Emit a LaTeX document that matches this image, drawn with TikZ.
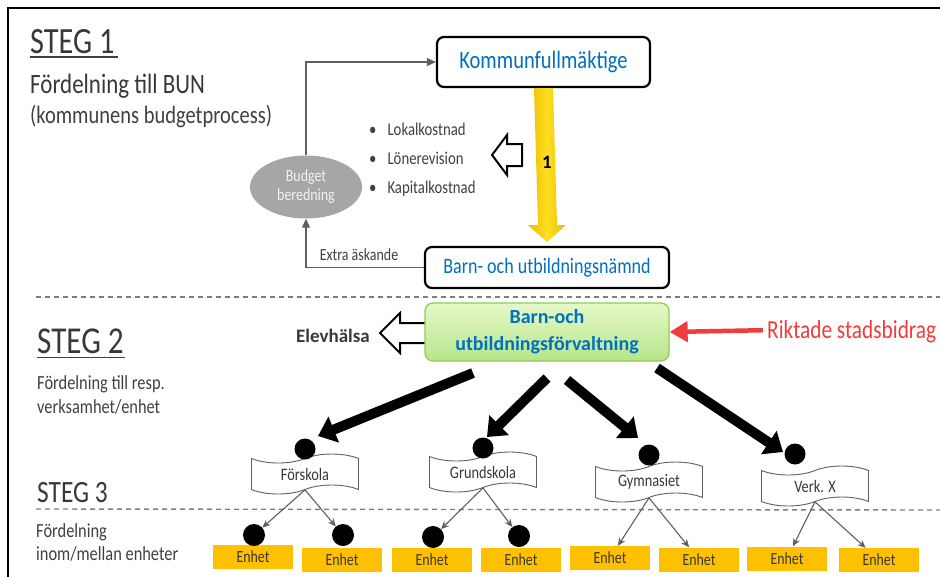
\documentclass[tikz,border=0pt]{standalone}
\usepackage{fontspec}
\setmainfont{Carlito}[FakeStretch=0.82]
\newfontfamily\widefont{Carlito}
\usetikzlibrary{shapes.geometric,shapes.symbols,arrows.meta,calc}
\definecolor{kblue}{HTML}{0070C0}
\definecolor{txtdark}{HTML}{383838}
\definecolor{txtgray}{HTML}{404040}
\definecolor{linegray}{HTML}{5F5F5F}
\definecolor{dashgray}{HTML}{7F7F7F}
\definecolor{ellgray}{HTML}{A6A6A6}
\definecolor{gold}{HTML}{FFC000}
\definecolor{gtop}{HTML}{E6F9C8}
\definecolor{gbot}{HTML}{B6E58A}
\definecolor{gborder}{HTML}{94CB55}
\definecolor{rred}{HTML}{F03C3C}
\definecolor{yedge}{HTML}{E9B800}
\definecolor{ymid}{HTML}{FFE020}
\newcommand\myfs[1]{\fontsize{#1}{#1}\selectfont}
\tikzset{
  heading/.style={anchor=base west, inner sep=0pt, text=txtdark},
  subtext/.style={anchor=base west, inner sep=0pt, text=txtgray},
  mainbox/.style={draw=black, line width=2.2pt, rounded corners=7pt, fill=white, text=kblue, inner sep=0pt},
  greybar/.style={draw=linegray, line width=1.3pt},
  dashsep/.style={draw=dashgray, line width=1.4pt, dash pattern=on 5pt off 4pt},
  banner/.style={tape, draw=linegray, line width=0.9pt, fill=white, minimum width=107pt, minimum height=40pt, tape bend height=9pt, inner sep=0pt, font=\myfs{17.5}, text=txtdark},
  bigdot/.style={circle, fill=black, minimum size=21pt, inner sep=0pt},
  enhetbox/.style={fill=gold, minimum width=80pt, minimum height=24pt, inner sep=0pt, font=\myfs{17}, text=txtdark},
  thickarrow/.style={line width=10pt, -{Triangle[width=27pt,length=17pt]}},
  thinarrow/.style={draw=linegray, line width=1.1pt, -{Stealth[length=8pt,width=7pt]}},
  hollow/.style={draw=black, line width=2pt, fill=white, line join=miter},
}
\begin{document}
\begin{tikzpicture}[x=1pt,y=-1pt]
\useasboundingbox (0,0) rectangle (940,576);
% frame
\draw[line width=2pt] (8,580) -- (8,8) -- (945,8);

% STEG 1
\node[heading, font=\myfs{37}] (steg1) at (30,53) {STEG 1};
\draw[line width=1.4pt, txtgray] (30,57) -- (118,57);
\node[heading, font=\myfs{28}] (fbun) at (30,93) {Fördelning till BUN};
\node[subtext, font=\myfs{25}] (kbp) at (30,123) {(kommunens budgetprocess)};

% boxes top
\node[mainbox, minimum width=213pt, minimum height=50pt, font=\myfs{25}] (kf) at (543.5,62) {Kommunfullmäktige};
\node[mainbox, minimum width=244pt, minimum height=41pt, font=\myfs{22}] (bun) at (547,267.5) {Barn- och utbildningsnämnd};

% yellow arrow
\shade[left color=yedge, right color=yedge, middle color=ymid]
  ($(kf.south)+(-9.5,0)$) -- ($(kf.south)+(9.5,0)$) -- (557,225) -- (566,225) -- ($(bun.north)+(0,-4)$) -- (528,225) -- (538,225) -- cycle;
\node[font=\widefont\bfseries\myfs{19}, inner sep=0pt] (one) at (547,162) {1};

% hollow arrow (costs)
\draw[hollow] (522,144) -- (507,144) -- (507,135) -- (492,155) -- (507,175) -- (507,166) -- (522,166) -- cycle;
\node[subtext, font=\myfs{18}] (l1) at (369,135) {•\hspace{11pt}Lokalkostnad};
\node[subtext, font=\myfs{18}] (l2) at (369,164) {•\hspace{11pt}Lönerevision};
\node[subtext, font=\myfs{18}] (l3) at (369,193) {•\hspace{11pt}Kapitalkostnad};

% budget ellipse
\node[ellipse, fill=ellgray, minimum width=112pt, minimum height=63pt, inner sep=0pt, align=center, text=white!90!gray, font=\myfs{17}] (bb) at (306,187) {Budget\\[2pt]beredning};
\draw[greybar, -{Triangle[length=9pt,width=8pt]}] (bb.north) |- (kf.west);
\draw[greybar, -{Triangle[length=9pt,width=8pt]}] (bun.west) -| (bb.south);
\node[subtext, font=\myfs{17}, anchor=base] (extra) at (359,260) {Extra äskande};

% separator 1
\draw[dashsep] (36,297) -- (945,297);

% STEG 2
\node[heading, font=\myfs{38}] (steg2) at (37,353) {STEG 2};
\draw[line width=1.4pt, txtgray] (37,357.5) -- (125,357.5);
\node[subtext, font=\myfs{20}] (f2a) at (37,389) {Fördelning till resp.};
\node[subtext, font=\myfs{20}] (f2b) at (37,413) {verksamhet/enhet};

% Elevhalsa arrow
\draw[hollow] (428,323) -- (400,323) -- (400,313) -- (380,333) -- (400,353) -- (400,343) -- (428,343) -- cycle;
\node[heading, font=\widefont\bfseries\myfs{19}, anchor=base east] (elev) at (370,342) {Elevhälsa};

% green box
\node[draw=gborder, line width=1.3pt, rounded corners=8pt, top color=gtop, bottom color=gbot, minimum width=244pt, minimum height=58pt, inner sep=0pt, align=center, text=kblue, font=\widefont\bfseries\fontsize{20}{27}\selectfont] (gf) at (547,332) {Barn-och\\utbildningsförvaltning};

% Riktade
\node[anchor=base west, inner sep=0pt, text=rred, font=\myfs{26}] (rik) at (767,338) {Riktade stadsbidrag};
\draw[draw=rred, line width=4.5pt, -{Triangle[width=20pt,length=18pt]}] ($(rik.west)+(-4,-1)$) -- (gf.east);

% banners and dots
\node[banner] (b1) at (305,474) {Förskola};
\node[banner] (b2) at (483,472) {Grundskola};
\node[banner] (b3) at (649,482) {Gymnasiet};
\node[banner] (b4) at (815,486) {Verk. X};
\node[bigdot] (d1) at (305,449) {};
\node[bigdot] (d2) at (483,448) {};
\node[bigdot] (d3) at (649,455) {};
\node[bigdot] (d4) at (795,454) {};

% thick arrows
\coordinate (s1) at (473,373); \coordinate (t1) at (318,436);
\coordinate (s2) at (547,378); \coordinate (t2) at (487,437);
\coordinate (s3) at (567,380); \coordinate (t3) at (638,438);
\coordinate (s4) at (657,368); \coordinate (t4) at (783,452);
\draw[thickarrow] (s1) -- (t1);
\draw[thickarrow] (s2) -- (t2);
\draw[thickarrow] (s3) -- (t3);
\draw[thickarrow] (s4) -- (t4);

% STEG 3
\node[heading, font=\myfs{31}] (steg3) at (37,502) {STEG 3};
\draw[dashsep] (36,509) -- (945,510);
\node[subtext, font=\myfs{20}] (f3a) at (36,537) {Fördelning};
\node[subtext, font=\myfs{20}] (f3b) at (36,560) {inom/mellan enheter};

% enhet boxes
\node[enhetbox] (u1) at (253,557) {Enhet};
\node[enhetbox] (u2) at (342,559.5) {Enhet};
\node[enhetbox] (u3) at (432,559.5) {Enhet};
\node[enhetbox] (u4) at (521,560) {Enhet};
\node[enhetbox] (u5) at (610,558) {Enhet};
\node[enhetbox] (u6) at (699,559.5) {Enhet};
\node[enhetbox] (u7) at (787,558.5) {Enhet};
\node[enhetbox] (u8) at (879,560) {Enhet};
\node[bigdot, minimum size=22pt] (e1) at (254,535) {};
\node[bigdot, minimum size=22pt] (e2) at (343,535) {};
\node[bigdot, minimum size=22pt] (e3) at (433,537) {};
\node[bigdot, minimum size=22pt] (e4) at (519,536) {};

% thin arrows
\draw[thinarrow] (b1.south) -- (e1);
\draw[thinarrow] (b1.south) -- (e2);
\draw[thinarrow] (b2.south) -- (e3);
\draw[thinarrow] (b2.south) -- (e4);
\draw[thinarrow] (b3.south) -- (u5);
\draw[thinarrow] (b3.south) -- (u6);
\draw[thinarrow] (b4.south) -- (u7);
\draw[thinarrow] (b4.south) -- (u8);
\end{tikzpicture}
\end{document}
